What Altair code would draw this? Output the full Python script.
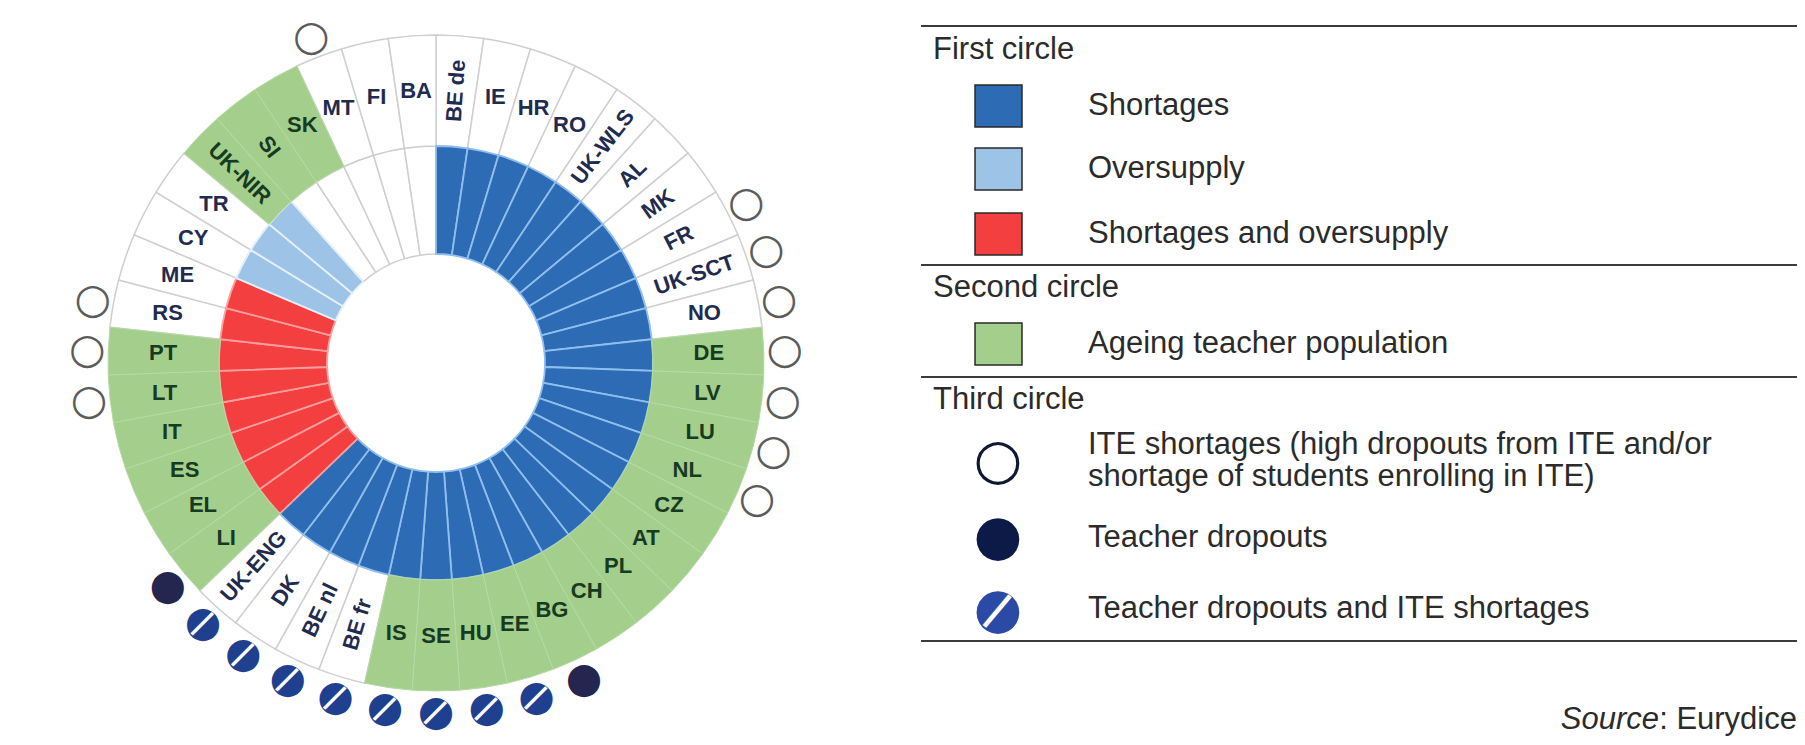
import math
import altair as alt
import pandas as pd

# ---------------- data ----------------
countries = ["BE de", "IE", "HR", "RO", "UK-WLS", "AL", "MK", "FR", "UK-SCT", "NO",
             "DE", "LV", "LU", "NL", "CZ", "AT", "PL", "CH", "BG", "EE", "HU", "SE", "IS",
             "BE fr", "BE nl", "DK", "UK-ENG", "LI", "EL", "ES", "IT", "LT", "PT", "RS",
             "ME", "CY", "TR", "UK-NIR", "SI", "SK", "MT", "FI", "BA"]

# First circle
shortages = ["BE de", "IE", "HR", "RO", "UK-WLS", "AL", "MK", "FR", "UK-SCT", "NO",
             "DE", "LV", "LU", "NL", "CZ", "AT", "PL", "CH", "BG", "EE", "HU", "SE", "IS",
             "BE fr", "BE nl", "DK", "UK-ENG"]
oversupply = ["CY", "TR", "UK-NIR"]
shortages_and_oversupply = ["LI", "EL", "ES", "IT", "LT", "PT", "RS", "ME"]

# Second circle
ageing = ["DE", "LV", "LU", "NL", "CZ", "AT", "PL", "CH", "BG", "EE", "HU", "SE", "IS",
          "LI", "EL", "ES", "IT", "LT", "PT", "UK-NIR", "SI", "SK"]

# Third circle
ite_shortages = ["FR", "UK-SCT", "NO", "DE", "LV", "LU", "NL", "LT", "PT", "RS", "MT"]
teacher_dropouts = ["BG", "LI"]
dropouts_and_ite = ["EE", "HU", "SE", "IS", "BE fr", "BE nl", "DK", "UK-ENG"]

# labels written along the radius
radial_out = ["BE de", "UK-WLS", "AL", "MK", "FR", "UK-SCT"]
radial_in = ["BE fr", "BE nl", "DK", "UK-ENG", "UK-NIR", "SI"]

legend_sections = ["First circle", "Second circle", "Third circle"]
first_labels = ["Shortages", "Oversupply", "Shortages and oversupply"]
second_labels = ["Ageing teacher population"]
third_labels = ["ITE shortages (high dropouts from ITE and/or\nshortage of students enrolling in ITE)",
                "Teacher dropouts", "Teacher dropouts and ITE shortages"]
source_label = ["Source", ": Eurydice"]

# ---------------- layout / style ----------------
W, H = 1789, 729
CX, CY = 428, 355
R0, R1, R2 = 109, 217, 328
R_LABEL, R_MARK = 273, 349

FILL_RANGE = ["#2d6bb5", "#9dc3e6", "#f33f3f", "#a3ce8b"]
STROKE_RANGE = ["#8fbfef", "#e6f0fa", "#ff9e9e"]
GREEN_STROKE = "#b6daa3"
GRID = "#cfcfcf"
NAVY_TXT = "#1f2b4f"
GREEN_TXT = "#173a22"
LEG_TXT = "#2b2b2b"
FONT = "Liberation Sans"
GLYPH_FONT = "DejaVu Sans"
MS = 42   # marker glyph size
LFS = 31  # legend font size

N = len(countries)


def member(c, groups):
    for name, lst in groups:
        if c in lst:
            return name
    return "none"


df = pd.DataFrame({"country": countries})
df["start"] = range(N)
df["end"] = df["start"] + 1
df["mid"] = df["start"] + 0.5
df["first"] = [member(c, [("Shortages", shortages), ("Oversupply", oversupply),
                          ("Shortages and oversupply", shortages_and_oversupply)]) for c in countries]
df["second"] = ["Ageing teacher population" if c in ageing else "none" for c in countries]
df["third"] = [member(c, [("ITE", ite_shortages), ("Dropouts", teacher_dropouts),
                          ("Both", dropouts_and_ite)]) for c in countries]
deg = df["mid"] / N * 360
df["rot"] = [((d - 90) % 360 if c in radial_out else (d - 270) % 360 if c in radial_in else 0)
             for c, d in zip(countries, deg)]

theta_scale = alt.Scale(domain=[0, N], range=[0, 2 * math.pi])
fill_scale = alt.Scale(domain=first_labels + second_labels, range=FILL_RANGE)
stroke_scale = alt.Scale(domain=first_labels, range=STROKE_RANGE)

base = alt.Chart(df)
center = dict(x=alt.value(CX), y=alt.value(CY))
th = dict(theta=alt.Theta("start:Q", scale=theta_scale, stack=False), theta2=alt.Theta2("end:Q"))
thm = dict(theta=alt.Theta("mid:Q", scale=theta_scale, stack=False))

white_inner = base.transform_filter(alt.datum.first == "none").mark_arc(
    fill="white", stroke=GRID, strokeWidth=1.5).encode(
    **center, **th, radius=alt.value(R0), radius2=alt.value(R1))
white_outer = base.transform_filter(alt.datum.second == "none").mark_arc(
    fill="white", stroke=GRID, strokeWidth=1.5).encode(
    **center, **th, radius=alt.value(R1), radius2=alt.value(R2))
inner = base.transform_filter(alt.datum.first != "none").mark_arc(strokeWidth=1.8).encode(
    **center, **th, radius=alt.value(R0), radius2=alt.value(R1),
    fill=alt.Fill("first:N", scale=fill_scale, legend=None),
    stroke=alt.Stroke("first:N", scale=stroke_scale, legend=None))
outer = base.transform_filter(alt.datum.second != "none").mark_arc(
    stroke=GREEN_STROKE, strokeWidth=1).encode(
    **center, **th, radius=alt.value(R1), radius2=alt.value(R2),
    fill=alt.Fill("second:N", scale=fill_scale, legend=None))

labels = base.mark_text(font=FONT, fontSize=22, fontWeight="bold").encode(
    **center, **thm, radius=alt.value(R_LABEL),
    text="country:N",
    angle=alt.Angle("rot:Q", scale=None),
    color=alt.Color("second:N", scale=alt.Scale(domain=["Ageing teacher population", "none"],
                                                range=[GREEN_TXT, NAVY_TXT]), legend=None))

mpos = dict(**center, **thm, radius=alt.value(R_MARK))
m_ite = base.transform_filter(alt.datum.third == "ITE").mark_text(
    text="○", font=GLYPH_FONT, fontSize=MS, color="#5b5b5b").encode(**mpos)
m_drop = base.transform_filter(alt.datum.third == "Dropouts").mark_text(
    text="●", font=GLYPH_FONT, fontSize=MS, color="#25264f").encode(**mpos)
m_both = base.transform_filter(alt.datum.third == "Both").mark_text(
    text="●", font=GLYPH_FONT, fontSize=MS, color="#1f3f8f").encode(**mpos)
m_stripe = base.transform_filter(alt.datum.third == "Both").mark_text(
    text="|", font=GLYPH_FONT, fontWeight="bold", fontSize=30, color="white", angle=45).encode(**mpos)

# ---------------- legend ----------------
LX_RULE, LX_TITLE, LX_SW0, LX_SW1, LX_TEXT, LX_MARK = 913, 925, 967, 1014, 1080, 990
rules = alt.Chart(pd.DataFrame({"y": [18, 257, 369, 633]})).mark_rule(
    color="#3a3a3a", strokeWidth=2).encode(
    x=alt.value(LX_RULE), x2=alt.value(W), y=alt.Y("y:Q", scale=None, axis=None))

titles = alt.Chart(pd.DataFrame({"t": legend_sections, "y": [42, 280, 392]})).mark_text(
    align="left", baseline="middle", font=FONT, fontSize=LFS, color=LEG_TXT).encode(
    x=alt.value(LX_TITLE), y=alt.Y("y:Q", scale=None, axis=None), text="t:N")

sw_df = pd.DataFrame({"label": first_labels + second_labels, "y0": [77, 140, 205, 315]})
sw_df["y1"] = sw_df["y0"] + 42
swatches = alt.Chart(sw_df).mark_rect(stroke="#2a2a2a", strokeWidth=1.5).encode(
    x=alt.value(LX_SW0), x2=alt.value(LX_SW1),
    y=alt.Y("y0:Q", scale=None, axis=None), y2="y1:Q",
    fill=alt.Fill("label:N", scale=fill_scale, legend=None))

item_lines = first_labels + second_labels + [ln for lab in third_labels for ln in lab.split("\n")]
items = alt.Chart(pd.DataFrame({"t": item_lines, "y": [98, 161, 226, 336, 437, 469, 530, 601]})).mark_text(
    align="left", baseline="middle", font=FONT, fontSize=LFS, color=LEG_TXT).encode(
    x=alt.value(LX_TEXT), y=alt.Y("y:Q", scale=None, axis=None), text="t:N")

leg_ite = alt.Chart(pd.DataFrame({"k": ["ite"]})).mark_text(
    text="○", font=GLYPH_FONT, fontWeight="bold", fontSize=56, color="#0e1833").encode(
    x=alt.value(LX_MARK), y=alt.value(453))
leg_drop = alt.Chart(pd.DataFrame({"k": ["drop"]})).mark_text(
    text="●", font=GLYPH_FONT, fontSize=56, color="#0c1a48").encode(
    x=alt.value(LX_MARK), y=alt.value(529))
leg_both = alt.Chart(pd.DataFrame({"k": ["both"]})).mark_text(
    text="●", font=GLYPH_FONT, fontSize=56, color="#2a4aa5").encode(
    x=alt.value(LX_MARK), y=alt.value(602))
leg_stripe = alt.Chart(pd.DataFrame({"k": ["both"]})).mark_text(
    text="|", font=GLYPH_FONT, fontWeight="bold", fontSize=40, color="white", angle=40).encode(
    x=alt.value(LX_MARK), y=alt.value(602))

src_it = alt.Chart(pd.DataFrame({"t": [source_label[0]]})).mark_text(
    align="right", baseline="middle", font=FONT, fontSize=LFS, fontStyle="italic", color=LEG_TXT).encode(
    x=alt.value(W - 138), y=alt.value(712), text="t:N")
src_rest = alt.Chart(pd.DataFrame({"t": [source_label[1]]})).mark_text(
    align="right", baseline="middle", font=FONT, fontSize=LFS, color=LEG_TXT).encode(
    x=alt.value(W), y=alt.value(712), text="t:N")

chart = alt.layer(
    white_inner, white_outer, inner, outer, labels,
    m_ite, m_drop, m_both, m_stripe,
    rules, titles, swatches, items, leg_ite, leg_drop, leg_both, leg_stripe, src_it, src_rest,
).properties(
    width=W, height=H, autosize=alt.AutoSizeParams(type="none"), padding=0
).configure_view(strokeWidth=0)

chart.save("out.html", embed_options={"renderer": "svg", "actions": False})
